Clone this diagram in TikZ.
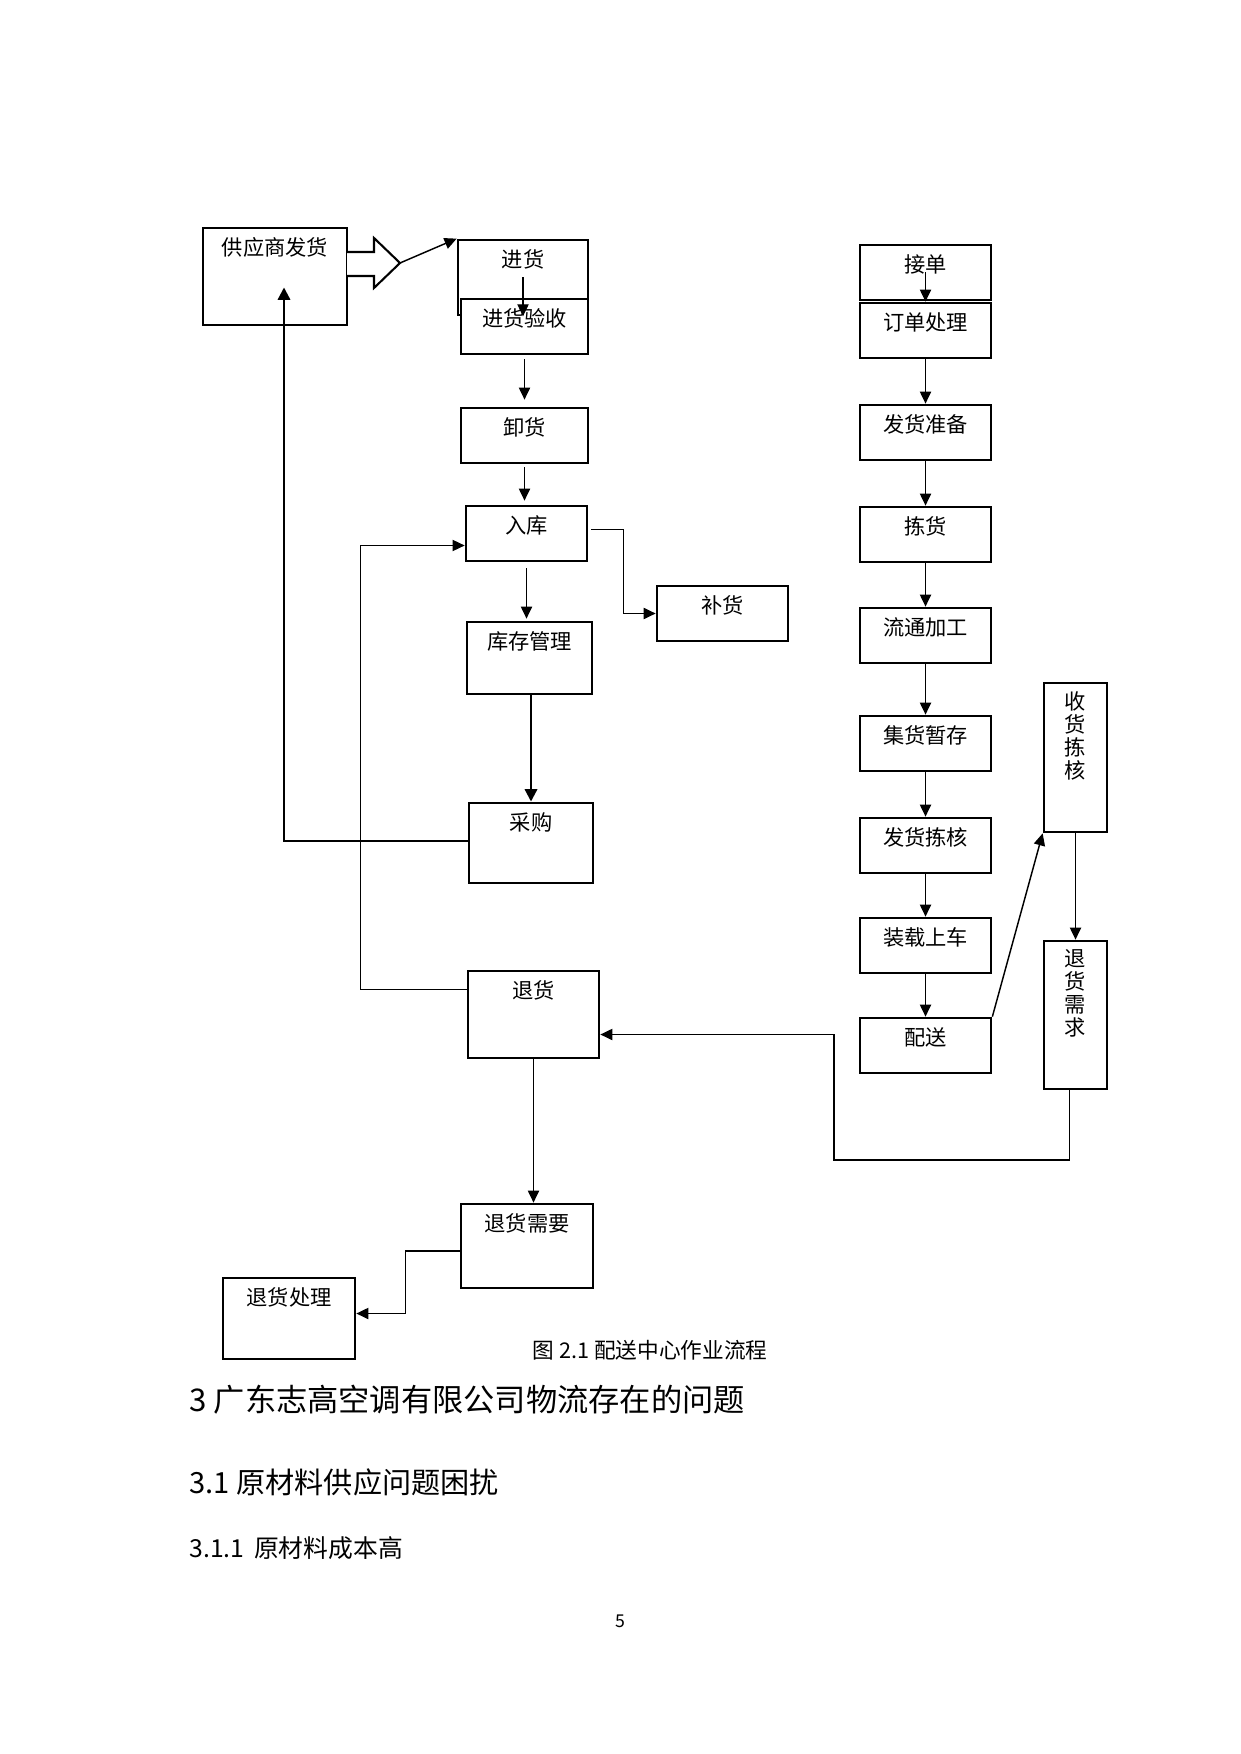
\documentclass[tikz,border=0pt]{standalone}
\usepackage{fontspec}
\newfontfamily\cjk{Noto Sans CJK SC}
\usetikzlibrary{arrows.meta}
\def\px{0.48006pt}
\tikzset{
 box/.style 2 args={draw,line width=1.3pt,fill=white,inner sep=0pt,minimum width=#1*\px,minimum height=#2*\px},
 tag/.style={anchor=center,inner sep=0pt,yshift=-21*\px,font=\cjk\fontsize{10.2pt}{11pt}\selectfont},
 vtag/.style={anchor=center,inner sep=0pt,yshift=-54*\px,align=center,font=\cjk\fontsize{10.2pt}{11pt}\selectfont},
 arr/.style={line width=0.7pt,-{Triangle[length=5.8pt,width=5.4pt]}},
 thinarr/.style={line width=0.5pt,-{Triangle[length=5.8pt,width=5.4pt]}},
 fatarr/.style={line width=1.4pt,-{Triangle[length=6pt,width=5.8pt]}}
}
\begin{document}
\begin{tikzpicture}[x=\px,y=-\px,font=\cjk]
 \useasboundingbox (0,0) rectangle (1240,1754);
 % left column
 \node[box={144}{97},label={[tag]north:供应商发货}] (gys) at (275,276.5) {};
 \node[box={130}{75},label={[tag]north:进货}] (jh) at (523,277.5) {};
 \node[box={127}{55},label={[tag]north:进货验收}] (jhys) at (524.5,326.5) {};
 \node[box={127}{55},label={[tag]north:卸货}] (xh) at (524.5,435.5) {};
 \node[box={121}{55},label={[tag]north:入库}] (rk) at (526.5,533.5) {};
 \node[box={131}{55},label={[tag]north:补货}] (bh) at (722.5,613.5) {};
 \node[box={125}{72},label={[tag]north:库存管理}] (kcgl) at (529.5,658) {};
 \node[box={124}{80},label={[tag]north:采购}] (cg) at (531,843) {};
 \node[box={131}{87},label={[tag]north:退货}] (th) at (533.5,1014.5) {};
 \node[box={132}{84},label={[tag]north:退货需要}] (thxy) at (527,1246) {};
 \node[box={132}{81},label={[tag]north:退货处理}] (thcl) at (289,1318.5) {};
 % right column
 \foreach \nm/\txt/\yy in {jd/接单/272.5,ddcl/订单处理/330.5,fhzb/发货准备/432.5,jianh/拣货/534.5,
   ltjg/流通加工/635.5,jhzc/集货暂存/743.5,fhjh/发货拣核/845.5,zzsc/装载上车/945.5,ps/配送/1045.5}
   \node[box={131}{55},label={[tag]north:\txt}] (\nm) at (925.5,\yy) {};
 \node[box={63}{149},label={[vtag]north:{收\\货\\拣\\核}}] (shjh) at (1075.5,757.5) {};
 \node[box={63}{148},label={[vtag]north:{退\\货\\需\\求}}] (thxq) at (1075.5,1015) {};
 % hollow arrow
 \draw[line width=1pt,fill=white] (347,252) -- (374,252) -- (374,238) -- (400,263) -- (374,288) -- (374,276) -- (347,276);
 \coordinate (fattip) at (400,263);
 \draw[arr] (fattip) -- (jh.north west);
 % arrows
 \draw[arr] (jh.center) -- (jh.south);
 \draw[arr] ([yshift=-4*\px]jhys.south) -- ([yshift=7*\px]xh.north);
 \draw[arr] ([yshift=-3*\px]xh.south) -- ([yshift=4*\px]xh.south |- rk.north);
 \draw[arr] ([yshift=-6*\px]rk.south) -- ([yshift=2*\px]rk.south |- kcgl.north);
 \draw[arr] ([xshift=3*\px,yshift=4*\px]rk.east) -- ++(32,0) |- (bh.west);
 \draw[fatarr] (cg.north |- kcgl.south) -- (cg.north);
 \draw[fatarr] ([yshift=2*\px]cg.west) -| ([xshift=9*\px,yshift=39*\px]gys.south);
 \draw[thinarr] ([yshift=25*\px]th.west) -- ++(-106,0) |- ([yshift=-12*\px]rk.west);
 \draw[arr] (th.south) -- (th.south |- thxy.north);
 \draw[arr] ([yshift=-5*\px]thxy.west) -- ++(-54,0) |- ([yshift=5*\px]thcl.east);
 \draw[arr] (jd.center) -- (ddcl.north);
 \foreach \a/\b in {ddcl/fhzb,fhzb/jianh,jianh/ltjg,ltjg/jhzc,jhzc/fhjh,fhjh/zzsc,zzsc/ps}
   \draw[arr] (\a.south) -- (\b.north);
 \draw[arr] (ps.north east) -- (shjh.south west);
 \draw[arr] (shjh.south) -- (thxq.north);
 \draw[arr] ([xshift=-6*\px]thxq.south) |- (834,1160) |- ([yshift=-20*\px]th.east);
 % caption and text
 \node[font=\cjk\fontsize{10.4pt}{12pt}\selectfont] (cap) at (650,1350) {图 2.1 配送中心作业流程};
 \node[anchor=west,inner sep=0pt,font=\cjk\fontsize{15pt}{18pt}\selectfont] (h1) at (189,1400) {3 广东志高空调有限公司物流存在的问题};
 \node[anchor=west,inner sep=0pt,font=\cjk\fontsize{14pt}{17pt}\selectfont] (h2) at (189,1482) {3.1 原材料供应问题困扰};
 \node[anchor=west,inner sep=0pt,font=\cjk\fontsize{11.9pt}{14pt}\selectfont] (h3) at (189,1548) {3.1.1\, 原材料成本高};
 \node[font=\cjk\fontsize{8.5pt}{10pt}\selectfont] (pg) at (620,1621) {5};
\end{tikzpicture}
\end{document}
